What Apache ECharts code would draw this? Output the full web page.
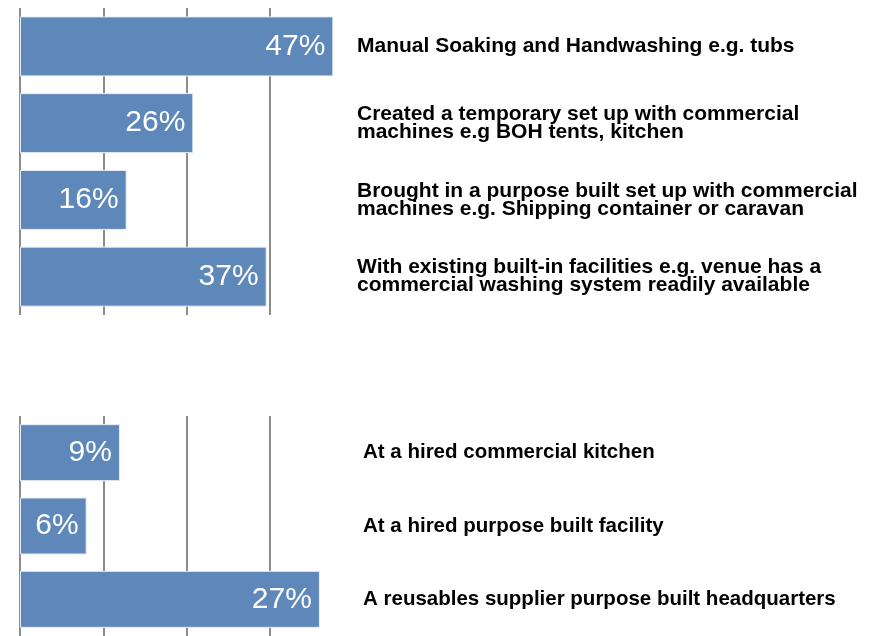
<!DOCTYPE html>
<html>
<head>
<meta charset="utf-8">
<script src="https://cdn.jsdelivr.net/npm/echarts@6/dist/echarts.min.js"></script>
<style>
  html, body { margin: 0; padding: 0; background: #fff; }
  #chart { width: 881px; height: 636px; }
</style>
</head>
<body>
<div id="chart"></div>
<script>
// washing setup (top panel)
const topCategories = [
  'Manual Soaking and Handwashing e.g. tubs',
  'Created a temporary set up with commercial\nmachines e.g BOH tents, kitchen',
  'Brought in a purpose built set up with commercial\nmachines e.g. Shipping container or caravan',
  'With existing built-in facilities e.g. venue has a\ncommercial washing system readily available'
]
const topValues = [47, 26, 16, 37]

// washing location (bottom panel)
const bottomCategories = [
  'At a hired commercial kitchen',
  'At a hired purpose built facility',
  'A reusables supplier purpose built headquarters'
]
const bottomValues = [9, 6, 27]

const FONT = '"Liberation Sans", Arial, sans-serif'
const BAR = '#5e87ba'
const GRIDLINE = '#8c8c8c'

const chart = echarts.init(document.getElementById('chart'), null, { renderer: 'canvas' })

const xAxisFor = (gridIndex, max, interval) => ({
  type: 'value', gridIndex, min: 0, max, interval,
  axisLabel: { show: false }, axisLine: { show: false }, axisTick: { show: false },
  splitLine: { show: true, showMinLine: true, showMaxLine: false, lineStyle: { color: GRIDLINE, width: 2 } }
})

const yAxisFor = (gridIndex, data, margin, padTop, size) => ({
  type: 'category', gridIndex, data, inverse: true, position: 'right',
  axisLine: { show: false }, axisTick: { show: false }, splitLine: { show: false },
  axisLabel: {
    margin, align: 'left', color: '#000', fontFamily: FONT, fontWeight: 'bold',
    fontSize: size, lineHeight: 18, padding: [padTop, 0, 0, 0],
    backgroundColor: 'rgba(255,255,255,0)'
  }
})

const seriesFor = (idx, data, barWidth) => ({
  type: 'bar', xAxisIndex: idx, yAxisIndex: idx, data, barWidth,
  itemStyle: { color: BAR, borderColor: '#e9eef5', borderWidth: 1 },
  label: {
    show: true, position: 'insideRight', distance: 8, color: '#fff',
    fontFamily: FONT, fontSize: 30, formatter: p => p.value + '%'
  },
  silent: true
})

chart.setOption({
  animation: false,
  grid: [
    { left: 20, top: 8, width: 320, height: 307 },
    { left: 20, top: 416, width: 311, height: 223.5 }
  ],
  xAxis: [xAxisFor(0, 48, 12.5), xAxisFor(1, 28, 7.5)],
  yAxis: [yAxisFor(0, topCategories, 17, 10, 21), yAxisFor(1, bottomCategories, 32, 2, 20.5)],
  series: [seriesFor(0, topValues, 60), seriesFor(1, bottomValues, 57)]
})
</script>
</body>
</html>
